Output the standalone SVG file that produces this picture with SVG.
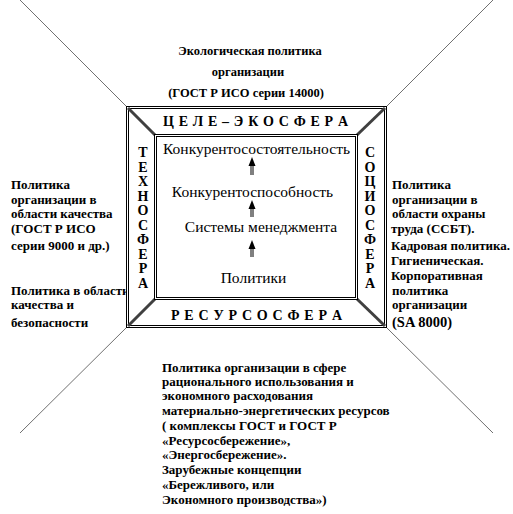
<svg xmlns="http://www.w3.org/2000/svg" width="513" height="514" viewBox="0 0 513 514" font-family="'Liberation Serif', 'DejaVu Serif', 'Times New Roman', serif">
<style>
text{font-family:'Liberation Serif','DejaVu Serif','Times New Roman',serif}
.t{font-weight:bold;font-size:13px;fill:#000}
.n{font-size:15.5px;fill:#000}
.s{font-weight:bold;font-size:14px;fill:#000}
.thin{stroke:#707070;stroke-width:1;fill:none}
.thick{stroke:#404040;stroke-width:3}
.box{fill:none;stroke:#000;stroke-width:1}
.shaft{stroke:#000;stroke-width:1}
.head{fill:#000;stroke:none}
</style>
<rect width="513" height="514" fill="#fff"/>
<g id="connectors">
<line class="thin" x1="20" y1="0" x2="126" y2="106"/>
<line class="thin" x1="493" y1="0" x2="387" y2="106"/>
<line class="thin" x1="20" y1="433" x2="126" y2="328"/>
<line class="thin" x1="493" y1="433" x2="387" y2="328"/>
</g>
<g id="left-text">
<text class="t" x="11" y="189">Политика</text>
<text class="t" x="11" y="204">организации в</text>
<text class="t" x="11" y="218">области качества</text>
<text class="t" x="11" y="233">(ГОСТ Р ИСО</text>
<text class="t" x="11" y="250">серии 9000 и др.)</text>
<text class="t" x="11" y="295">Политика в области</text>
<text class="t" x="11" y="309">качества и</text>
<text class="t" x="11" y="327">безопасности</text>
</g>
<g id="frame">
<rect x="126.5" y="106.5" width="260" height="221" fill="#fff" stroke="#000"/>
<rect x="128.5" y="108.5" width="256" height="217" class="box"/>
<line class="thick" x1="128" y1="108" x2="155" y2="135"/>
<line class="thick" x1="385" y1="108" x2="357" y2="135"/>
<line class="thick" x1="128" y1="326" x2="155" y2="299"/>
<line class="thick" x1="385" y1="326" x2="357" y2="299"/>
<rect x="154.5" y="134.5" width="203" height="165" fill="#fff" stroke="#000"/>
<rect x="156.5" y="136.5" width="199" height="161" class="box"/>
</g>
<g id="top-text">
<text class="t" x="250" y="55" text-anchor="middle" style="font-size:12.5px">Экологическая политика</text>
<text class="t" x="248" y="76" text-anchor="middle" style="font-size:12.5px">организации</text>
<text class="t" x="246" y="97" text-anchor="middle" style="font-size:12.5px">(ГОСТ  Р ИСО серии 14000)</text>
</g>
<g id="tseleekosfera">
<text class="s" x="163" y="126" textLength="185" lengthAdjust="spacing">Ц Е Л Е – Э К О С Ф Е Р А</text>
</g>
<g id="resursosfera">
<text class="s" x="171" y="320" textLength="171" lengthAdjust="spacing">Р Е С У Р С О С Ф Е Р А</text>
</g>
<g id="tekhnosfera" class="s" text-anchor="middle">
<text x="143" y="157">Т</text><text x="143" y="171.5">Е</text><text x="143" y="186">Х</text><text x="143" y="200.5">Н</text><text x="143" y="215">О</text><text x="143" y="229.5">С</text><text x="143" y="244">Ф</text><text x="143" y="258.5">Е</text><text x="143" y="273">Р</text><text x="143" y="287.5">А</text>
</g>
<g id="sotsiosfera" class="s" text-anchor="middle">
<text x="370" y="157">С</text><text x="370" y="171.5">О</text><text x="370" y="186">Ц</text><text x="370" y="200.5">И</text><text x="370" y="215">О</text><text x="370" y="229.5">С</text><text x="370" y="244">Ф</text><text x="370" y="258.5">Е</text><text x="370" y="273">Р</text><text x="370" y="287.5">А</text>
</g>
<g id="konkurentosostoyatelnost">
<text class="n" x="256.5" y="154" text-anchor="middle">Конкурентосостоятельность</text>
</g>
<g id="konkurentosposobnost">
<text class="n" x="252.5" y="197" text-anchor="middle">Конкурентоспособность</text>
</g>
<g id="sistemy">
<text class="n" x="261" y="232" text-anchor="middle">Системы менеджмента</text>
</g>
<g id="politiki">
<text class="n" x="253.5" y="283" text-anchor="middle">Политики</text>
</g>
<g id="arrows">
<line class="shaft" x1="251" y1="175" x2="251" y2="163"/><line class="shaft" x1="253" y1="175" x2="253" y2="163"/>
<path class="head" d="M248.5,166 L252,157 L255.5,166 Z"/>
<line class="shaft" x1="251" y1="217" x2="251" y2="206"/><line class="shaft" x1="253" y1="217" x2="253" y2="206"/>
<path class="head" d="M248.5,209 L252,200 L255.5,209 Z"/>
<line class="shaft" x1="251" y1="257" x2="251" y2="246"/><line class="shaft" x1="253" y1="257" x2="253" y2="246"/>
<path class="head" d="M248.5,249 L252,240 L255.5,249 Z"/>
</g>
<g id="right-text">
<text class="t" x="392" y="189">Политика</text>
<text class="t" x="392" y="204">организации в</text>
<text class="t" x="392" y="218">области охраны</text>
<text class="t" x="391" y="233">труда (ССБТ).</text>
<text class="t" x="391" y="250">Кадровая политика.</text>
<text class="t" x="391" y="265">Гигиеническая.</text>
<text class="t" x="391" y="280">Корпоративная</text>
<text class="t" x="392" y="295">политика</text>
<text class="t" x="392" y="309">организации</text>
<text class="t" x="392" y="327" style="font-size:14.5px">(SA 8000)</text>
</g>
<g id="bottom-text">
<text class="t" x="162" y="372">Политика организации в сфере</text>
<text class="t" x="162" y="386">рационального использования и</text>
<text class="t" x="162" y="400">экономного расходования</text>
<text class="t" x="162" y="415">материально-энергетических ресурсов</text>
<text class="t" x="162" y="430">( комплексы ГОСТ и ГОСТ Р</text>
<text class="t" x="162" y="445">«Ресурсосбережение»,</text>
<text class="t" x="162" y="459">«Энергосбережение».</text>
<text class="t" x="162" y="474">Зарубежные концепции</text>
<text class="t" x="162" y="489">«Бережливого, или</text>
<text class="t" x="162" y="504">Экономного производства»)</text>
</g>
</svg>
